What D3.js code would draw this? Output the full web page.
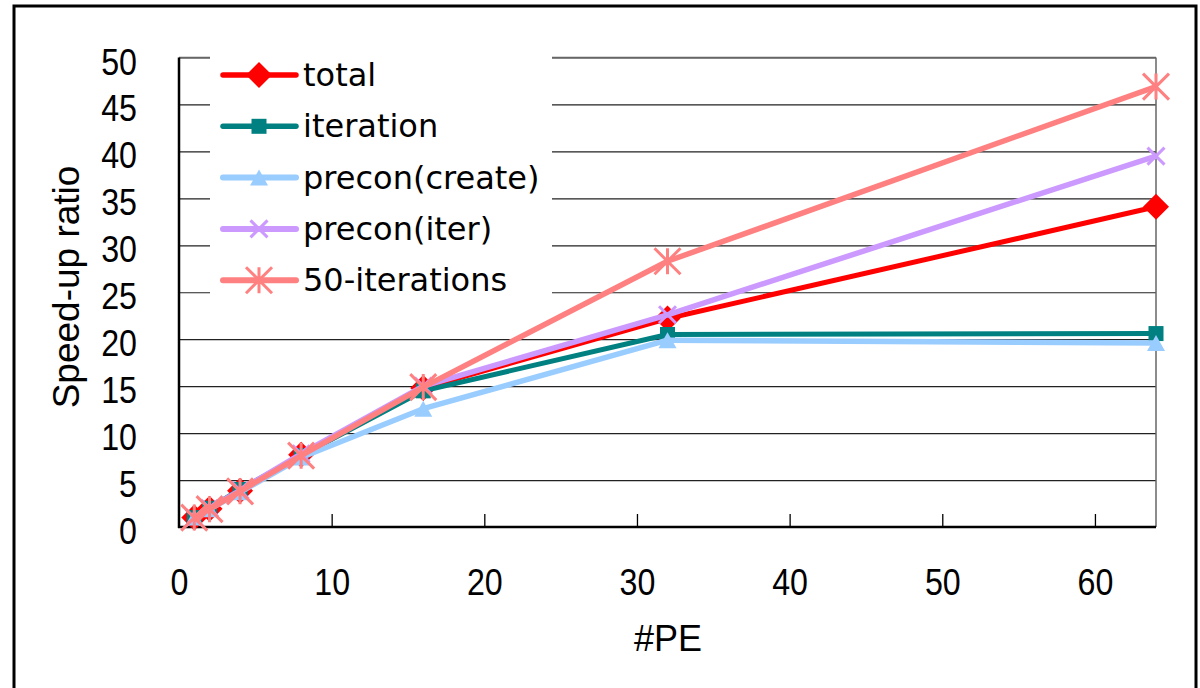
<!DOCTYPE html>
<html>
<head>
<meta charset="utf-8">
<script src="https://cdn.jsdelivr.net/npm/d3@7"></script>
<style>
  html, body { margin: 0; padding: 0; background: #fff; }
  svg { display: block; }
  .tick-label { font-family: "Liberation Sans", Arial, sans-serif; font-size: 37px; fill: #000; }
  .axis-title { font-family: "Liberation Sans", Arial, sans-serif; fill: #000; }
  .legend-text { font-family: "DejaVu Sans", sans-serif; font-size: 32px; fill: #000; }
</style>
</head>
<body>
<svg id="chart" width="1200" height="688"></svg>
<script>
// Number of processing elements
const pe = [1, 2, 4, 8, 16, 32, 64];

// Speed-up ratio per series
const total         = [1, 1.95, 3.85, 7.7, 14.8, 22.2, 34.1];
const iteration     = [1, 2.0, 4.0, 7.6, 14.5, 20.5, 20.6];
const preconCreate  = [1, 1.9, 3.7, 7.4, 12.6, 19.9, 19.6];
const preconIter    = [1, 2.0, 3.9, 7.8, 15.0, 22.6, 39.5];
const fiftyIter     = [1, 1.9, 3.8, 7.6, 14.9, 28.3, 46.9];

const seriesNames = ["total", "iteration", "precon(create)", "precon(iter)", "50-iterations"];

// Axis ticks
const xTickValues = [0, 10, 20, 30, 40, 50, 60];
const yTickValues = [0, 5, 10, 15, 20, 25, 30, 35, 40, 45, 50];

const xTitle = "#PE";
const yTitle = "Speed-up ratio";

const seriesStyle = [
  { color: "#FF0000", width: 5,   marker: "diamond" },
  { color: "#008080", width: 5,   marker: "square" },
  { color: "#99CCFF", width: 5.5, marker: "triangle" },
  { color: "#CC99FF", width: 5.5, marker: "cross" },
  { color: "#FF8080", width: 5.5, marker: "star" }
];
const seriesValues = [total, iteration, preconCreate, preconIter, fiftyIter];
const series = seriesNames.map((name, i) => ({
  name,
  style: seriesStyle[i],
  points: pe.map((p, j) => ({ x: p, y: seriesValues[i][j] }))
}));

const svg = d3.select("#chart");

// Outer frame
svg.append("rect")
  .attr("x", 14).attr("y", 6).attr("width", 1182).attr("height", 700)
  .attr("fill", "#fff").attr("stroke", "#000").attr("stroke-width", 3);

const plotLeft = 179, plotRight = 1156, plotTop = 57.5, plotBottom = 527;
const x = d3.scaleLinear().domain([0, 64]).range([plotLeft, plotRight]);
const y = d3.scaleLinear().domain([0, 50]).range([plotBottom, plotTop]);

// Horizontal gridlines
const grid = svg.append("g")
  .attr("transform", `translate(${plotLeft},0)`)
  .call(d3.axisLeft(y).tickValues(yTickValues.filter(v => v > 0)).tickSize(-(plotRight - plotLeft)).tickFormat(""));
grid.select(".domain").remove();
grid.selectAll(".tick line").attr("stroke", "#222").attr("stroke-width", 1.2);

// Plot frame: right and top edges in gray
svg.append("line").attr("x1", plotRight).attr("x2", plotRight).attr("y1", plotTop).attr("y2", plotBottom)
  .attr("stroke", "#666").attr("stroke-width", 1.5);
svg.append("line").attr("x1", plotLeft).attr("x2", plotRight).attr("y1", plotTop).attr("y2", plotTop)
  .attr("stroke", "#666").attr("stroke-width", 1.5);

// X axis: inner tick marks
const xTicks = svg.append("g")
  .attr("transform", `translate(0,${plotBottom})`)
  .call(d3.axisBottom(x).tickValues(xTickValues.filter(v => v > 0)).tickSize(-13).tickFormat(""));
xTicks.select(".domain").remove();
xTicks.selectAll(".tick line").attr("stroke", "#000").attr("stroke-width", 1.3);

// Tick labels use a horizontally condensed face
const squeeze = 0.87;

// X axis labels
const xLabels = svg.append("g")
  .attr("transform", `translate(0,${plotBottom})`)
  .call(d3.axisBottom(x).tickValues(xTickValues).tickSize(0).tickPadding(0).tickFormat(d3.format("d")));
xLabels.select(".domain").remove();
xLabels.attr("font-size", null).attr("font-family", null);
xLabels.selectAll("text").attr("class", "tick-label").attr("dy", null).attr("y", 68)
  .attr("transform", `scale(${squeeze},1)`);

// Y axis labels
const yLabels = svg.append("g")
  .attr("transform", `translate(${plotLeft},0)`)
  .call(d3.axisLeft(y).tickValues(yTickValues).tickSize(0).tickPadding(42).tickFormat(d3.format("d")));
yLabels.select(".domain").remove();
yLabels.attr("font-size", null).attr("font-family", null);
yLabels.selectAll("text").attr("class", "tick-label").attr("dy", "16.5")
  .attr("x", -42 / squeeze).attr("transform", `scale(${squeeze},1)`);

// Axis lines
svg.append("line").attr("x1", plotLeft).attr("x2", plotLeft).attr("y1", plotTop).attr("y2", plotBottom + 1)
  .attr("stroke", "#000").attr("stroke-width", 2.5);
svg.append("line").attr("x1", plotLeft - 1).attr("x2", plotRight).attr("y1", plotBottom).attr("y2", plotBottom)
  .attr("stroke", "#000").attr("stroke-width", 2.5);

// Axis titles
svg.append("text").attr("class", "axis-title")
  .attr("x", 668).attr("y", 651).attr("text-anchor", "middle")
  .attr("font-size", 36).text(xTitle);
svg.append("text").attr("class", "axis-title")
  .attr("transform", "translate(79,287) rotate(-90)")
  .attr("text-anchor", "middle").attr("font-size", 37).text(yTitle);

// Marker drawing
function drawMarker(g, type, color, cx, cy) {
  if (type === "diamond") {
    g.append("path").attr("d", `M${cx},${cy - 13}L${cx + 13},${cy}L${cx},${cy + 13}L${cx - 13},${cy}Z`)
      .attr("fill", color);
  } else if (type === "square") {
    g.append("rect").attr("x", cx - 7.5).attr("y", cy - 7.5).attr("width", 15).attr("height", 15)
      .attr("fill", color);
  } else if (type === "triangle") {
    g.append("path").attr("d", `M${cx},${cy - 8}L${cx + 9},${cy + 8}L${cx - 9},${cy + 8}Z`)
      .attr("fill", color);
  } else if (type === "cross") {
    const r = 8.5;
    g.append("path").attr("d", `M${cx - r},${cy - r}L${cx + r},${cy + r}M${cx - r},${cy + r}L${cx + r},${cy - r}`)
      .attr("stroke", color).attr("stroke-width", 3).attr("fill", "none");
  } else if (type === "star") {
    const r = 13;
    g.append("path").attr("d", `M${cx - r},${cy - r}L${cx + r},${cy + r}M${cx - r},${cy + r}L${cx + r},${cy - r}M${cx},${cy - r}L${cx},${cy + r}`)
      .attr("stroke", color).attr("stroke-width", 3).attr("fill", "none");
  }
}

// Series lines and markers
const line = d3.line().x(d => x(d.x)).y(d => y(d.y));
series.forEach(s => {
  const g = svg.append("g");
  g.append("path").datum(s.points).attr("d", line)
    .attr("fill", "none").attr("stroke", s.style.color)
    .attr("stroke-width", s.style.width).attr("stroke-linejoin", "round");
  s.points.forEach(p => drawMarker(g, s.style.marker, s.style.color, x(p.x), y(p.y)));
});

// Legend
const legend = svg.append("g");
legend.append("rect").attr("x", 210).attr("y", 50).attr("width", 342).attr("height", 255).attr("fill", "#fff");
series.forEach((s, i) => {
  const cy = 75 + i * 51.3;
  const g = legend.append("g");
  g.append("line").attr("x1", 223).attr("x2", 296).attr("y1", cy).attr("y2", cy)
    .attr("stroke", s.style.color).attr("stroke-width", s.style.width + 0.5).attr("stroke-linecap", "round");
  drawMarker(g, s.style.marker, s.style.color, 259, cy);
  g.append("text").attr("class", "legend-text").attr("x", 303).attr("y", cy + 11).text(s.name);
});
</script>
</body>
</html>
